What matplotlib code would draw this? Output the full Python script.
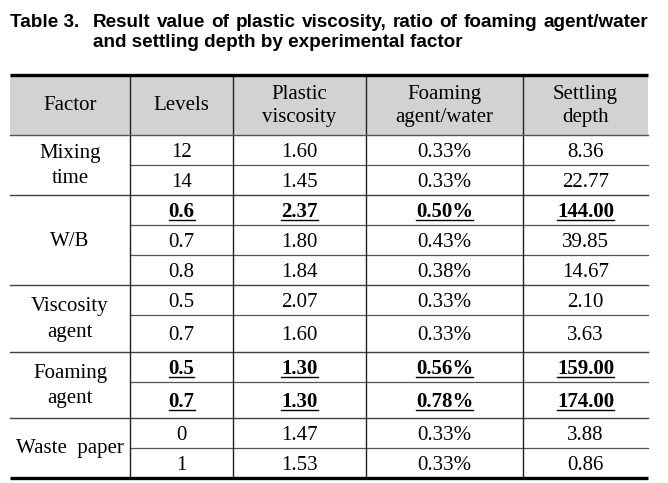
import matplotlib.pyplot as plt

# 표 데이터
title_lead = 'Table 3.'
title_line1 = 'Result value of plastic viscosity, ratio of foaming agent/water'
title_line2 = 'and settling depth by experimental factor'

headers = ['Factor', 'Levels', 'Plastic\nviscosity', 'Foaming\nagent/water', 'Settling\ndepth']
factors = ['Mixing\ntime', 'W/B', 'Viscosity\nagent', 'Foaming\nagent', 'Waste  paper']
group_sizes = [2, 3, 2, 2, 2]
levels = ['12', '14', '0.6', '0.7', '0.8', '0.5', '0.7', '0.5', '0.7', '0', '1']
plastic_viscosity = [1.60, 1.45, 2.37, 1.80, 1.84, 2.07, 1.60, 1.30, 1.30, 1.47, 1.53]
foaming_water = [0.33, 0.33, 0.50, 0.43, 0.38, 0.33, 0.33, 0.56, 0.78, 0.33, 0.33]
settling_depth = [8.36, 22.77, 144.00, 39.85, 14.67, 2.10, 3.63, 159.00, 174.00, 3.88, 0.86]
highlight_rows = [2, 7, 8]

# 레이아웃 (픽셀)
W, H = 668, 483
col_x = [10, 130, 233, 366, 523, 648]
header_top, header_h = 75, 60
row_h = [30, 30, 30, 30, 30, 30, 37, 30, 36, 30, 30]

serif = ['Liberation Serif', 'DejaVu Serif']
sans = ['Liberation Sans', 'DejaVu Sans']
fs = 15

fig = plt.figure(figsize=(W / 100, H / 100), dpi=100)
ax = fig.add_axes([0, 0, 1, 1])
ax.set_xlim(0, W)
ax.set_ylim(H, 0)
ax.axis('off')
renderer = fig.canvas.get_renderer()

# 제목 (양쪽 정렬, 폭에 맞춰 글자 크기 조정)
x0, x1 = 93, col_x[-1]
words = title_line1.split()
probe = [ax.text(0, 0, w, fontsize=14, fontweight='bold', family=sans) for w in words]
natural = sum(o.get_window_extent(renderer).width for o in probe)
for o in probe:
    o.remove()
min_gap = 6
tfs = min(14, 14 * (x1 - x0 - min_gap * (len(words) - 1)) / natural)

ax.text(col_x[0], 27, title_lead, fontsize=tfs, fontweight='bold', family=sans, va='baseline')
objs = [ax.text(0, 27, w, fontsize=tfs, fontweight='bold', family=sans, va='baseline') for w in words]
widths = [o.get_window_extent(renderer).width for o in objs]
gap = (x1 - x0 - sum(widths)) / (len(words) - 1)
x = x0
for o, w in zip(objs, widths):
    o.set_x(x)
    x += w + gap
ax.text(x0, 47, title_line2, fontsize=tfs, fontweight='bold', family=sans, va='baseline')

# 머리글 배경
ax.fill_between([col_x[0], col_x[-1]], header_top, header_top + header_h, color='#d2d2d2', lw=0)

row_edges = [header_top + header_h]
for h in row_h:
    row_edges.append(row_edges[-1] + h)
bottom = row_edges[-1]

for i, hd in enumerate(headers):
    xc = (col_x[i] + col_x[i + 1]) / 2
    ax.text(xc, header_top + header_h / 2 + 1, hd, fontsize=fs, family=serif,
            ha='center', va='center', linespacing=1.25)

# 그룹 구분선과 요인 이름
group_starts = [0]
for g in group_sizes:
    group_starts.append(group_starts[-1] + g)
for k, name in enumerate(factors):
    y0 = row_edges[group_starts[k]]
    y1 = row_edges[group_starts[k + 1]]
    ax.text((col_x[0] + col_x[1]) / 2, (y0 + y1) / 2 + 1, name, fontsize=fs, family=serif,
            ha='center', va='center', linespacing=1.45)
    if k > 0:
        ax.plot([col_x[0], col_x[-1]], [y0, y0], color='#404040', lw=1.0)

# 셀 값
columns = [levels,
           [f'{v:.2f}' for v in plastic_viscosity],
           [f'{v:.2f}%' for v in foaming_water],
           [f'{v:.2f}' for v in settling_depth]]
for r in range(len(levels)):
    yc = (row_edges[r] + row_edges[r + 1]) / 2
    bold = r in highlight_rows
    if r not in group_starts:
        ax.plot([col_x[1], col_x[-1]], [row_edges[r], row_edges[r]], color='#555555', lw=0.9)
    for c, col in enumerate(columns):
        xc = (col_x[c + 1] + col_x[c + 2]) / 2
        t = ax.text(xc, yc + 7, col[r], fontsize=fs, family=serif, ha='center', va='baseline',
                    fontweight='bold' if bold else 'normal')
        if bold:
            w = t.get_window_extent(renderer).width
            ax.plot([xc - w / 2, xc + w / 2], [yc + 9.5, yc + 9.5], color='black', lw=1.0)

# 세로선과 위아래 굵은 선
for xv in col_x[1:-1]:
    ax.plot([xv, xv], [header_top, bottom], color='#222222', lw=1.0)
ax.plot([col_x[0], col_x[-1]], [header_top + header_h] * 2, color='#555555', lw=1.0)
ax.plot([col_x[0], col_x[-1]], [header_top, header_top], color='black', lw=2.4, solid_capstyle='butt')
ax.plot([col_x[0], col_x[-1]], [bottom, bottom], color='black', lw=2.4, solid_capstyle='butt')

fig.savefig('out.png', dpi=100, facecolor='white')
